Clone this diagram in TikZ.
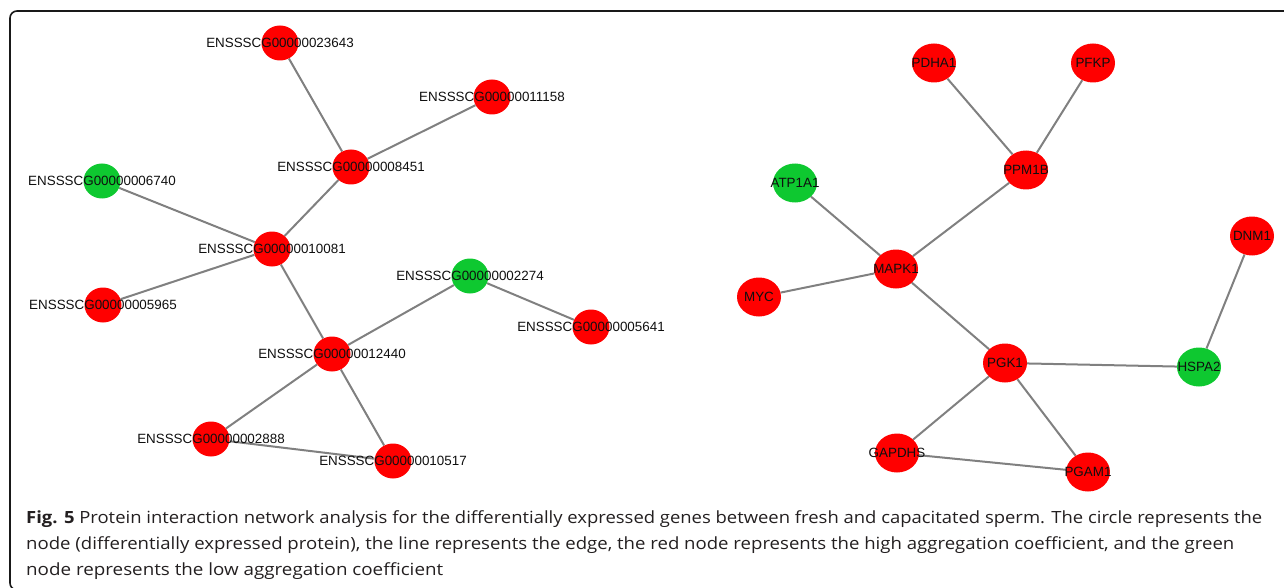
\documentclass[tikz,border=0pt]{standalone}
\usepackage{fontspec}
\usepackage{graphicx}
\setmainfont{Liberation Sans}
\newfontfamily\capfont{Open Sans}
\usetikzlibrary{shapes.geometric,backgrounds}
\definecolor{nodered}{RGB}{255,0,0}
\definecolor{nodegreen}{RGB}{14,200,48}
\definecolor{edgegray}{RGB}{128,128,128}
\definecolor{labtext}{RGB}{15,15,15}
\definecolor{captext}{RGB}{35,31,32}
\tikzset{
  lnode/.style={ellipse, inner sep=0pt, minimum width=37pt, minimum height=35pt},
  rnode/.style={ellipse, inner sep=0pt, minimum width=44pt, minimum height=39pt},
  hi/.style={fill=nodered},
  lo/.style={fill=nodegreen},
  lab/.style={font=\fontsize{13.4}{14}\selectfont, text=labtext, inner sep=0pt},
  link/.style={draw=edgegray, line width=2pt},
  capline/.style={anchor=base west, inner sep=0pt, text=captext, font=\capfont\fontsize{16.8}{20}\selectfont},
}
\begin{document}
\begin{tikzpicture}[x=1pt, y=-1pt]
\useasboundingbox (0,0) rectangle (1284,588);
\begin{scope}
\clip (0,0) rectangle (1284,588);
\draw[line width=1.6pt, rounded corners=7pt, black!90] (10,11) rectangle (1300,590);
\end{scope}

% left network
\node[lnode,hi,label={[lab]center:ENSSSCG00000023643}] (n23643) at (280,43) {};
\node[lnode,hi,label={[lab]center:ENSSSCG00000011158}] (n11158) at (492,97) {};
\node[lnode,hi,label={[lab]center:ENSSSCG00000008451}] (n8451) at (351,167) {};
\node[lnode,lo,label={[lab]center:ENSSSCG00000006740}] (n6740) at (102,181) {};
\node[lnode,hi,label={[lab]center:ENSSSCG00000010081}] (n10081) at (272,249) {};
\node[lnode,lo,label={[lab]center:ENSSSCG00000002274}] (n2274) at (470,276) {};
\node[lnode,hi,label={[lab]center:ENSSSCG00000005965}] (n5965) at (103,305) {};
\node[lnode,hi,label={[lab]center:ENSSSCG00000005641}] (n5641) at (591,327) {};
\node[lnode,hi,label={[lab]center:ENSSSCG00000012440}] (n12440) at (332,354) {};
\node[lnode,hi,label={[lab]center:ENSSSCG00000002888}] (n2888) at (211,439) {};
\node[lnode,hi,label={[lab]center:ENSSSCG00000010517}] (n10517) at (393,461) {};

% right network
\node[rnode,hi,label={[lab]center:PDHA1}] (pdha1) at (934,63) {};
\node[rnode,hi,label={[lab]center:PFKP}] (pfkp) at (1093,63) {};
\node[rnode,hi,label={[lab]center:PPM1B}] (ppm1b) at (1026,170) {};
\node[rnode,lo,label={[lab]center:ATP1A1}] (atp1a1) at (795,183) {};
\node[rnode,hi,label={[lab]center:DNM1}] (dnm1) at (1252,236) {};
\node[rnode,hi,label={[lab]center:MAPK1}] (mapk1) at (896,269) {};
\node[rnode,hi,label={[lab]center:MYC}] (myc) at (759,297) {};
\node[rnode,hi,label={[lab]center:PGK1}] (pgk1) at (1005,363) {};
\node[rnode,lo,label={[lab]center:HSPA2}] (hspa2) at (1199,367) {};
\node[rnode,hi,label={[lab]center:GAPDHS}] (gapdhs) at (897,453) {};
\node[rnode,hi,label={[lab]center:PGAM1}] (pgam1) at (1088,472) {};

\begin{pgfonlayer}{background}
\draw[link] (n23643) -- (n8451);
\draw[link] (n11158) -- (n8451);
\draw[link] (n8451) -- (n10081);
\draw[link] (n6740) -- (n10081);
\draw[link] (n10081) -- (n5965);
\draw[link] (n10081) -- (n12440);
\draw[link] (n12440) -- (n2274);
\draw[link] (n2274) -- (n5641);
\draw[link] (n12440) -- (n2888);
\draw[link] (n12440) -- (n10517);
\draw[link] (n2888) -- (n10517);
\draw[link] (pdha1) -- (ppm1b);
\draw[link] (pfkp) -- (ppm1b);
\draw[link] (ppm1b) -- (mapk1);
\draw[link] (atp1a1) -- (mapk1);
\draw[link] (myc) -- (mapk1);
\draw[link] (mapk1) -- (pgk1);
\draw[link] (pgk1) -- (hspa2);
\draw[link] (dnm1) -- (hspa2);
\draw[link] (pgk1) -- (gapdhs);
\draw[link] (pgk1) -- (pgam1);
\draw[link] (gapdhs) -- (pgam1);
\end{pgfonlayer}

% caption
\node[capline] (cap1) at (26,523) {\resizebox{1236pt}{\height}{\textbf{Fig. 5} Protein interaction network analysis for the differentially expressed genes between fresh and capacitated sperm. The circle represents the}};
\node[capline] (cap2) at (26,549) {\resizebox{1208pt}{\height}{node (differentially expressed protein), the line represents the edge, the red node represents the high aggregation coefficient, and the green}};
\node[capline] (cap3) at (26,575) {\resizebox{417pt}{\height}{node represents the low aggregation coefficient}};
\end{tikzpicture}
\end{document}
